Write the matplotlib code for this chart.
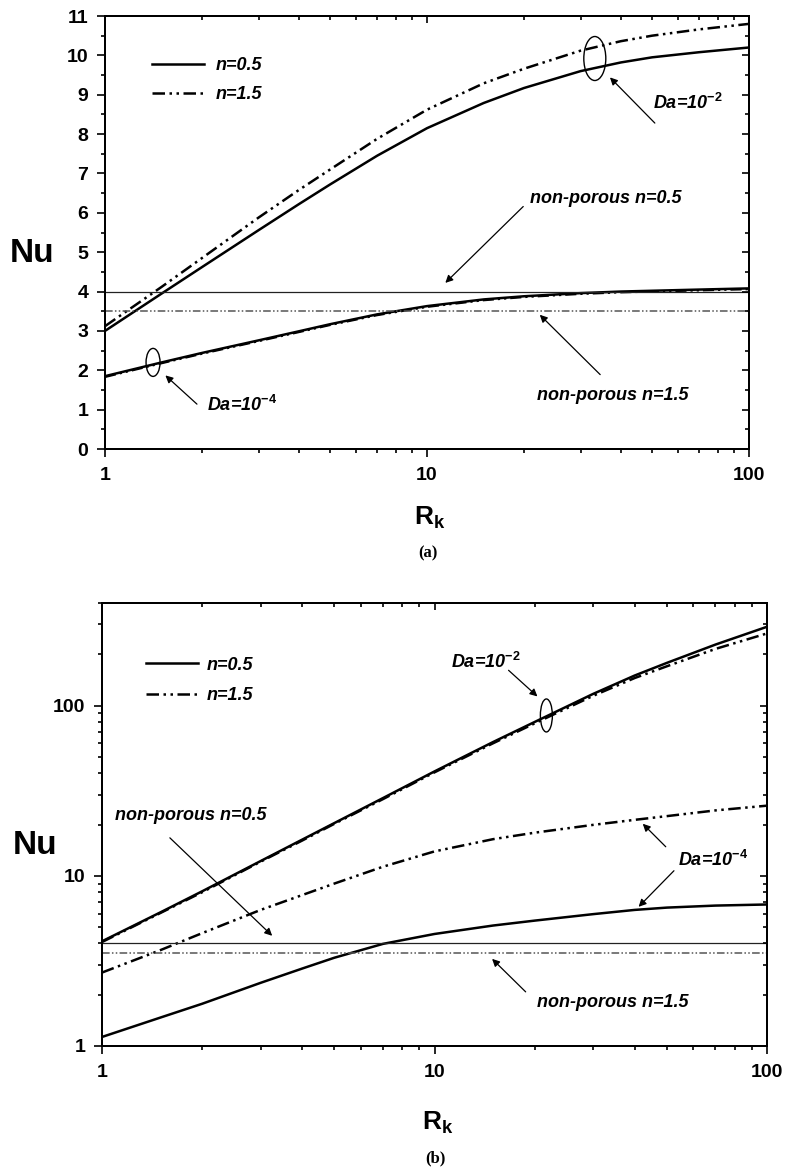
import matplotlib.pyplot as plt
from matplotlib.patches import Ellipse
from matplotlib.ticker import LogLocator, NullFormatter, MultipleLocator

plt.rcParams['font.family'] = ['Liberation Sans', 'DejaVu Sans']
plt.rcParams['font.weight'] = 'bold'
plt.rcParams['mathtext.fontset'] = 'custom'
plt.rcParams['mathtext.it'] = 'Liberation Sans:italic:bold'
plt.rcParams['mathtext.bf'] = 'Liberation Sans:bold'
plt.rcParams['mathtext.rm'] = 'Liberation Sans:bold'

# Rk values
rk = [1, 1.5, 2, 3, 4, 5, 7, 10, 15, 20, 30, 40, 50, 70, 100]

# panel (a), linear Nu axis
a_da2_n05 = [3.00, 3.95, 4.62, 5.56, 6.22, 6.72, 7.45, 8.15, 8.79, 9.17, 9.60, 9.82, 9.95, 10.08, 10.20]
a_da2_n15 = [3.12, 4.12, 4.85, 5.88, 6.58, 7.10, 7.88, 8.62, 9.29, 9.66, 10.12, 10.36, 10.50, 10.66, 10.80]
a_da4_n05 = [1.85, 2.20, 2.44, 2.76, 2.99, 3.17, 3.42, 3.63, 3.80, 3.88, 3.96, 4.00, 4.02, 4.05, 4.08]
a_da4_n15 = [1.83, 2.18, 2.42, 2.74, 2.97, 3.15, 3.40, 3.61, 3.78, 3.86, 3.94, 3.98, 4.00, 4.03, 4.06]

# panel (b), log Nu axis
b_da2_n05 = [4.12, 6.1, 8.1, 12.2, 16.3, 20.4, 28.6, 41, 61, 80, 117, 150, 178, 228, 290]
b_da2_n15 = [4.08, 6.05, 8.0, 12.1, 16.1, 20.2, 28.2, 40.5, 60, 78.5, 114, 145, 170, 215, 265]
b_da4_n05 = [1.13, 1.47, 1.77, 2.35, 2.85, 3.30, 3.98, 4.55, 5.10, 5.45, 5.95, 6.30, 6.50, 6.68, 6.78]
b_da4_n15 = [2.70, 3.66, 4.60, 6.30, 7.70, 9.00, 11.3, 13.9, 16.4, 17.9, 19.9, 21.3, 22.4, 24.2, 25.8]

nonporous_n05 = 4.0
nonporous_n15 = 3.5

DDOT = (0, (5, 1.8, 1, 1.8, 1, 1.8))
ITB = dict(fontsize=13, fontweight='bold', fontstyle='italic')
ARW = dict(arrowstyle='-|>', lw=0.9, color='k', mutation_scale=11, shrinkA=0, shrinkB=0)
LEG = dict(size=13, weight='bold', style='italic')


def ring(ax, x, y, w, h):
    fx, fy = (ax.transData + ax.transAxes.inverted()).transform((x, y))
    bb = ax.get_window_extent()
    ax.add_patch(Ellipse((fx, fy), w / bb.width, h / bb.height, transform=ax.transAxes,
                         fill=False, lw=1.0, ec='k', clip_on=False))


def mirror_ticks(ax, ylog):
    # Origin style: outer ticks left/bottom, inner ticks top/right
    ax.tick_params(which='both', direction='out', width=1.2, labelsize=14)
    ax.tick_params(which='major', length=6)
    ax.tick_params(which='minor', length=3)
    ax.tick_params(axis='x', pad=7)
    ax.tick_params(axis='y', pad=6)
    axt = ax.twiny()
    axt.set_xscale('log')
    axt.set_xlim(ax.get_xlim())
    axt.set_xticks([1, 10, 100])
    axt.xaxis.set_minor_locator(LogLocator(base=10, subs=range(2, 10)))
    axt.xaxis.set_minor_formatter(NullFormatter())
    axt.tick_params(which='both', direction='in', width=1.2, labeltop=False)
    axt.tick_params(which='major', length=5)
    axt.tick_params(which='minor', length=3)
    axr = ax.twinx()
    if ylog:
        axr.set_yscale('log')
        axr.set_yticks([1, 10, 100])
        axr.yaxis.set_minor_locator(LogLocator(base=10, subs=range(2, 10)))
        axr.yaxis.set_minor_formatter(NullFormatter())
    else:
        axr.yaxis.set_major_locator(MultipleLocator(1))
        axr.yaxis.set_minor_locator(MultipleLocator(0.5))
    axr.set_ylim(ax.get_ylim())
    axr.tick_params(which='both', direction='in', width=1.2, labelright=False)
    axr.tick_params(which='major', length=5)
    axr.tick_params(which='minor', length=3)
    for a in (ax, axt, axr):
        for s in a.spines.values():
            s.set_linewidth(1.3)


fig = plt.figure(figsize=(7.86, 11.71), dpi=100)

# ---------------- (a) ----------------
ax = fig.add_axes([105 / 786, 1 - 449 / 1171, 644 / 786, 433 / 1171])
ax.set_xscale('log')
ax.plot(rk, a_da2_n05, color='k', lw=1.8, label='n=0.5')
ax.plot(rk, a_da2_n15, color='k', lw=1.8, ls=DDOT, label='n=1.5')
ax.plot(rk, a_da4_n05, color='k', lw=1.8)
ax.plot(rk, a_da4_n15, color='k', lw=1.6, ls=DDOT)
ax.axhline(nonporous_n05, color='#222222', lw=0.9)
ax.axhline(nonporous_n15, color='#555555', lw=1.1, ls=(0, (5, 1.5, 1, 1.5, 1, 1.5)))
ax.set_xlim(1, 100)
ax.set_ylim(0, 11)
ax.set_xticks([1, 10, 100])
ax.set_xticklabels(['1', '10', '100'])
ax.xaxis.set_minor_locator(LogLocator(base=10, subs=range(2, 10)))
ax.xaxis.set_minor_formatter(NullFormatter())
ax.yaxis.set_major_locator(MultipleLocator(1))
ax.yaxis.set_minor_locator(MultipleLocator(0.5))
ax.legend(loc='upper left', bbox_to_anchor=(0.061, 0.922), frameon=False, prop=LEG,
          handlelength=2.9, handletextpad=0.65, labelspacing=0.67, borderaxespad=0)
mirror_ticks(ax, False)

ring(ax, 33.2, 9.92, 22, 44)
ax.annotate('', xy=(37, 9.44), xytext=(51, 8.28), arrowprops=ARW)
ax.text(50.3, 8.8, 'Da=10$^{\\mathit{-2}}$', ha='left', va='center', **ITB)
ax.annotate('', xy=(11.4, 4.22), xytext=(19.9, 6.16), arrowprops=ARW)
ax.text(20.9, 6.36, 'non-porous n=0.5', ha='left', va='center', **ITB)
ax.annotate('', xy=(22.4, 3.41), xytext=(34.5, 1.89), arrowprops=ARW)
ax.text(22, 1.36, 'non-porous n=1.5', ha='left', va='center', **ITB)
ring(ax, 1.41, 2.2, 14, 28)
ax.annotate('', xy=(1.54, 1.87), xytext=(1.93, 1.14), arrowprops=ARW)
ax.text(2.07, 1.11, 'Da=10$^{\\mathit{-4}}$', ha='left', va='center', **ITB)

fig.text(32 / 786, 1 - 253 / 1171, 'Nu', fontsize=24, fontweight='bold', ha='center', va='center')
fig.text(430 / 786, 1 - 525 / 1171, 'R$_{\\mathbf{k}}$', fontsize=19, fontweight='bold', ha='center', va='baseline')
fig.text(428 / 786, 1 - 553 / 1171, '(a)', fontsize=12, fontweight='bold', family='Liberation Serif',
         ha='center', va='center')

# ---------------- (b) ----------------
bx = fig.add_axes([102 / 786, 1 - 1046 / 1171, 665 / 786, 443 / 1171])
bx.set_xscale('log')
bx.set_yscale('log')
bx.plot(rk, b_da2_n05, color='k', lw=1.8, label='n=0.5')
bx.plot(rk, b_da2_n15, color='k', lw=1.8, ls=DDOT, label='n=1.5')
bx.plot(rk, b_da4_n05, color='k', lw=1.8)
bx.plot(rk, b_da4_n15, color='k', lw=1.8, ls=DDOT)
bx.axhline(nonporous_n05, color='#222222', lw=0.9)
bx.axhline(nonporous_n15, color='#555555', lw=1.1, ls=(0, (5, 1.5, 1, 1.5, 1, 1.5)))
bx.set_xlim(1, 100)
bx.set_ylim(1, 400)
bx.set_xticks([1, 10, 100])
bx.set_xticklabels(['1', '10', '100'])
bx.xaxis.set_minor_locator(LogLocator(base=10, subs=range(2, 10)))
bx.xaxis.set_minor_formatter(NullFormatter())
bx.set_yticks([1, 10, 100])
bx.set_yticklabels(['1', '10', '100'])
bx.yaxis.set_minor_locator(LogLocator(base=10, subs=range(2, 10)))
bx.yaxis.set_minor_formatter(NullFormatter())
bx.legend(loc='upper left', bbox_to_anchor=(0.055, 0.895), frameon=False, prop=LEG,
          handlelength=2.9, handletextpad=0.5, labelspacing=0.75, borderaxespad=0)
mirror_ticks(bx, True)

ring(bx, 21.7, 87.4, 12, 33)
bx.annotate('', xy=(20.4, 113), xytext=(16.7, 161), arrowprops=ARW)
bx.text(11.2, 181, 'Da=10$^{\\mathit{-2}}$', ha='left', va='center', **ITB)
bx.annotate('', xy=(3.25, 4.44), xytext=(1.60, 16.7), arrowprops=ARW)
bx.text(1.094, 22.5, 'non-porous n=0.5', ha='left', va='center', **ITB)
bx.annotate('', xy=(42.3, 20.2), xytext=(49.6, 14.8), arrowprops=ARW)
bx.annotate('', xy=(41.1, 6.57), xytext=(52.5, 10.7), arrowprops=ARW)
bx.text(53.9, 12.3, 'Da=10$^{\\mathit{-4}}$', ha='left', va='center', **ITB)
bx.annotate('', xy=(14.9, 3.25), xytext=(18.8, 2.08), arrowprops=ARW)
bx.text(20.4, 1.81, 'non-porous n=1.5', ha='left', va='center', **ITB)

fig.text(35 / 786, 1 - 846 / 1171, 'Nu', fontsize=24, fontweight='bold', ha='center', va='center')
fig.text(438 / 786, 1 - 1130 / 1171, 'R$_{\\mathbf{k}}$', fontsize=19, fontweight='bold', ha='center', va='baseline')
fig.text(435 / 786, 1 - 1158 / 1171, '(b)', fontsize=12, fontweight='bold', family='Liberation Serif',
         ha='center', va='center')

fig.savefig('out.png', dpi=100)
